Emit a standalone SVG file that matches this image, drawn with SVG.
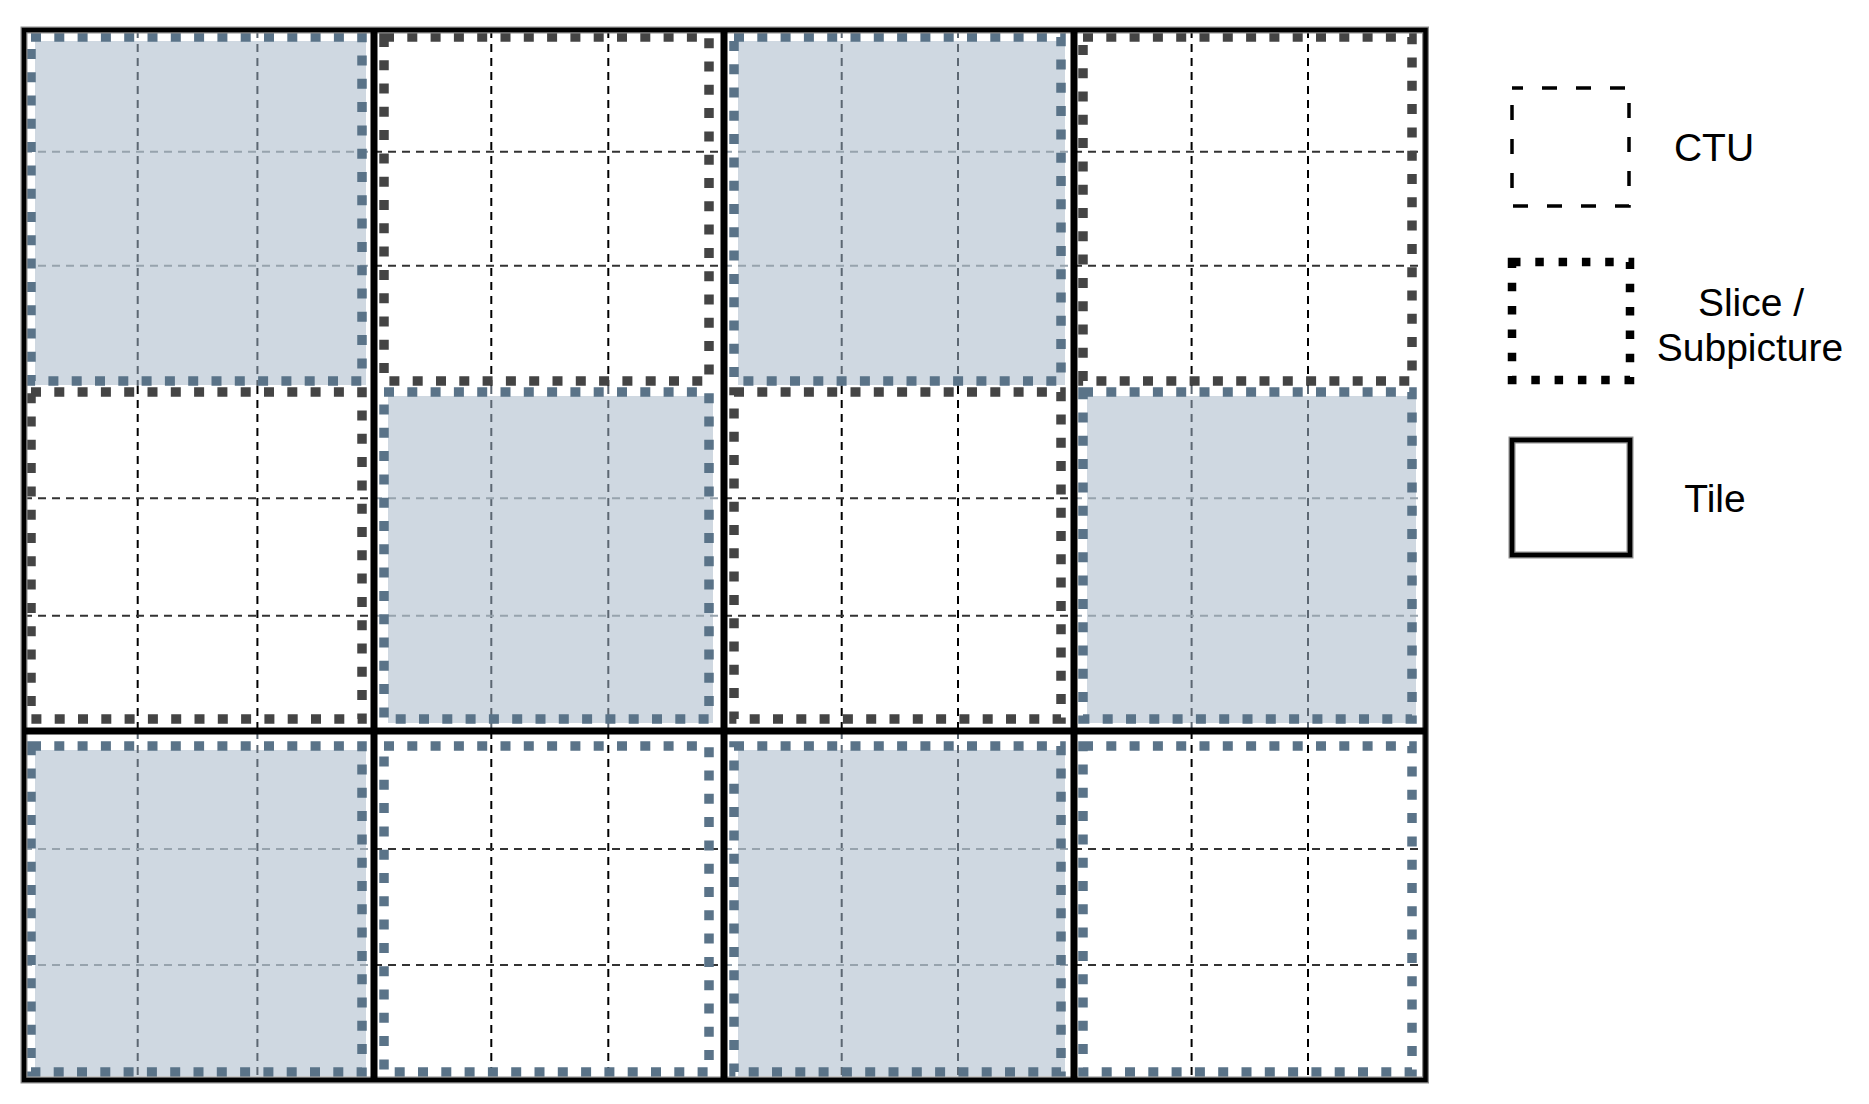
<svg xmlns="http://www.w3.org/2000/svg" width="1869" height="1104" viewBox="0 0 1869 1104">
<style>
.bg{fill:#ffffff}
.shade{fill:#cfd8e1}
.sp{fill:none;stroke-width:9.5;stroke-dasharray:10 13.3}
.blue{stroke:#5a7388}
.dark{stroke:#444444}
.ctu{stroke-width:2;stroke-dasharray:8 6;fill:none}
.vw{stroke:#000}
.hw{stroke:#333333}
.vs{stroke:#5c6772}
.hs{stroke:#97a3ad}
.halo{fill:none;stroke:#8c8c8c;stroke-width:7}
.solid{fill:none;stroke:#000;stroke-width:4.5}
.tl{stroke:#000;stroke-width:7}
.lbl{font-family:"Liberation Sans",Arial,Helvetica,sans-serif;font-size:39px;fill:#000;text-anchor:middle}
</style>
<rect class="bg" x="0" y="0" width="1869" height="1104"/>

<!-- Row 0 -->
<g id="sp-r0c0">
<rect class="shade" x="35" y="41" width="331" height="344"/>
<g class="ctu vs"><line x1="137.7" y1="30" x2="137.7" y2="386"/><line x1="257.4" y1="30" x2="257.4" y2="386"/></g>
<g class="ctu hs"><line x1="24" y1="151.7" x2="374" y2="151.7"/><line x1="24" y1="265.7" x2="374" y2="265.7"/></g>
<rect class="sp blue" x="31" y="37" width="331" height="344"/>
</g>
<g id="sp-r0c1">
<g class="ctu vw"><line x1="491.3" y1="30" x2="491.3" y2="386"/><line x1="608.3" y1="30" x2="608.3" y2="386"/></g>
<g class="ctu hw"><line x1="374" y1="151.7" x2="724" y2="151.7"/><line x1="374" y1="265.7" x2="724" y2="265.7"/></g>
<rect class="sp dark" x="384" y="37" width="325" height="344"/>
</g>
<g id="sp-r0c2">
<rect class="shade" x="738" y="41" width="327" height="344"/>
<g class="ctu vs"><line x1="841.7" y1="30" x2="841.7" y2="386"/><line x1="958" y1="30" x2="958" y2="386"/></g>
<g class="ctu hs"><line x1="724" y1="151.7" x2="1074" y2="151.7"/><line x1="724" y1="265.7" x2="1074" y2="265.7"/></g>
<rect class="sp blue" x="734" y="37" width="327" height="344"/>
</g>
<g id="sp-r0c3">
<g class="ctu vw"><line x1="1191.6" y1="30" x2="1191.6" y2="386"/><line x1="1308" y1="30" x2="1308" y2="386"/></g>
<g class="ctu hw"><line x1="1074" y1="151.7" x2="1425" y2="151.7"/><line x1="1074" y1="265.7" x2="1425" y2="265.7"/></g>
<rect class="sp dark" x="1083" y="37" width="329" height="344"/>
</g>

<!-- Row 1 -->
<g id="sp-r1c0">
<g class="ctu vw"><line x1="137.7" y1="386" x2="137.7" y2="731"/><line x1="257.4" y1="386" x2="257.4" y2="731"/></g>
<g class="ctu hw"><line x1="24" y1="498.3" x2="374" y2="498.3"/><line x1="24" y1="615.7" x2="374" y2="615.7"/></g>
<rect class="sp dark" x="31" y="392" width="331" height="327"/>
</g>
<g id="sp-r1c1">
<rect class="shade" x="388" y="396" width="325" height="327"/>
<g class="ctu vs"><line x1="491.3" y1="386" x2="491.3" y2="731"/><line x1="608.3" y1="386" x2="608.3" y2="731"/></g>
<g class="ctu hs"><line x1="374" y1="498.3" x2="724" y2="498.3"/><line x1="374" y1="615.7" x2="724" y2="615.7"/></g>
<rect class="sp blue" x="384" y="392" width="325" height="327"/>
</g>
<g id="sp-r1c2">
<g class="ctu vw"><line x1="841.7" y1="386" x2="841.7" y2="731"/><line x1="958" y1="386" x2="958" y2="731"/></g>
<g class="ctu hw"><line x1="724" y1="498.3" x2="1074" y2="498.3"/><line x1="724" y1="615.7" x2="1074" y2="615.7"/></g>
<rect class="sp dark" x="734" y="392" width="327" height="327"/>
</g>
<g id="sp-r1c3">
<rect class="shade" x="1087" y="396" width="329" height="327"/>
<g class="ctu vs"><line x1="1191.6" y1="386" x2="1191.6" y2="731"/><line x1="1308" y1="386" x2="1308" y2="731"/></g>
<g class="ctu hs"><line x1="1074" y1="498.3" x2="1425" y2="498.3"/><line x1="1074" y1="615.7" x2="1425" y2="615.7"/></g>
<rect class="sp blue" x="1083" y="392" width="329" height="327"/>
</g>

<!-- Row 2 -->
<g id="sp-r2c0">
<rect class="shade" x="35" y="750" width="331" height="326"/>
<g class="ctu vs"><line x1="137.7" y1="731" x2="137.7" y2="1080"/><line x1="257.4" y1="731" x2="257.4" y2="1080"/></g>
<g class="ctu hs"><line x1="24" y1="849" x2="374" y2="849"/><line x1="24" y1="965" x2="374" y2="965"/></g>
<rect class="sp blue" x="31" y="746" width="331" height="326"/>
</g>
<g id="sp-r2c1">
<g class="ctu vw"><line x1="491.3" y1="731" x2="491.3" y2="1080"/><line x1="608.3" y1="731" x2="608.3" y2="1080"/></g>
<g class="ctu hw"><line x1="374" y1="849" x2="724" y2="849"/><line x1="374" y1="965" x2="724" y2="965"/></g>
<rect class="sp blue" x="384" y="746" width="325" height="326"/>
</g>
<g id="sp-r2c2">
<rect class="shade" x="738" y="750" width="327" height="326"/>
<g class="ctu vs"><line x1="841.7" y1="731" x2="841.7" y2="1080"/><line x1="958" y1="731" x2="958" y2="1080"/></g>
<g class="ctu hs"><line x1="724" y1="849" x2="1074" y2="849"/><line x1="724" y1="965" x2="1074" y2="965"/></g>
<rect class="sp blue" x="734" y="746" width="327" height="326"/>
</g>
<g id="sp-r2c3">
<g class="ctu vw"><line x1="1191.6" y1="731" x2="1191.6" y2="1080"/><line x1="1308" y1="731" x2="1308" y2="1080"/></g>
<g class="ctu hw"><line x1="1074" y1="849" x2="1425" y2="849"/><line x1="1074" y1="965" x2="1425" y2="965"/></g>
<rect class="sp blue" x="1083" y="746" width="329" height="326"/>
</g>

<!-- Tiles -->
<g id="tiles">
<rect class="halo" x="24" y="30" width="1401.5" height="1050"/>
<rect class="solid" x="24" y="30" width="1401.5" height="1050"/>
<line class="tl" x1="374" y1="30" x2="374" y2="1080"/>
<line class="tl" x1="724" y1="30" x2="724" y2="1080"/>
<line class="tl" x1="1074" y1="30" x2="1074" y2="1080"/>
<line class="tl" x1="24" y1="731" x2="1425.5" y2="731"/>
</g>

<g id="connectors"></g>

<!-- Legend -->
<g id="legend-ctu">
<rect x="1512" y="88" width="117" height="118" fill="none" stroke="#000" stroke-width="3.5" stroke-dasharray="15 19" stroke-dashoffset="4"/>
<text class="lbl" x="1714" y="161">CTU</text>
</g>
<g id="legend-slice">
<rect x="1512" y="262" width="118" height="118" fill="none" stroke="#000" stroke-width="8.5" stroke-dasharray="8.5 14.8"/>
<text class="lbl" x="1751" y="316">Slice /</text>
<text class="lbl" x="1750" y="361">Subpicture</text>
</g>
<g id="legend-tile">
<rect class="halo" x="1512" y="440" width="118" height="115"/>
<rect class="solid" x="1512" y="440" width="118" height="115"/>
<text class="lbl" x="1715" y="512">Tile</text>
</g>
</svg>
